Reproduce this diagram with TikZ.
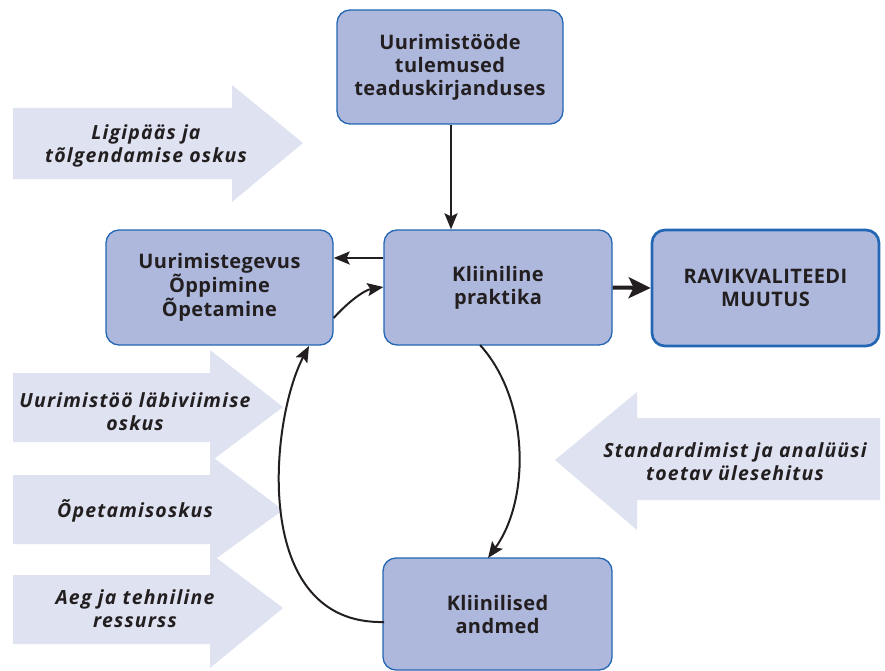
\documentclass[tikz,border=0pt]{standalone}
\usepackage{fontspec}
\setmainfont{Open Sans}
\newfontfamily\boxfont{Open Sans}[LetterSpace=2]
\newfontfamily\lblfont{Open Sans}[LetterSpace=6]
\usetikzlibrary{arrows.meta}
\definecolor{boxfill}{HTML}{AEB8DD}
\definecolor{boxline}{HTML}{2266B4}
\definecolor{arrfill}{HTML}{DEE2F1}
\definecolor{txt}{HTML}{231F20}
\tikzset{
  box/.style={draw=boxline, line width=1.3pt, fill=boxfill, rounded corners=13pt,
    minimum width=#1, align=center, text=txt, font=\boxfont\fontsize{20}{23}\selectfont\bfseries, inner sep=0pt},
  biglbl/.style={align=center, text=txt, font=\lblfont\fontsize{19.5}{23}\selectfont\bfseries\itshape},
  bigarr/.style={fill=arrfill, draw=none},
  conn/.style={draw=txt, line width=2pt, -{Stealth[length=16pt,width=13pt,inset=3pt]}},
}
\begin{document}
\begin{tikzpicture}[x=1pt,y=-1pt]
\useasboundingbox (0,0) rectangle (885,671);
% big background arrows
\fill[bigarr] (13,108) -- (232,108) -- (232,85) -- (303,143) -- (232,202) -- (232,179) -- (13,179) -- cycle;
\fill[bigarr] (13,373) -- (210,373) -- (210,350) -- (283,407) -- (210,462) -- (210,442) -- (13,442) -- cycle;
\fill[bigarr] (13,475) -- (210,475) -- (210,455) -- (283,510) -- (210,563) -- (210,544) -- (13,544) -- cycle;
\fill[bigarr] (13,575) -- (210,575) -- (210,553) -- (283,608) -- (210,668) -- (210,644) -- (13,644) -- cycle;
\fill[bigarr] (880,418) -- (637,418) -- (637,392) -- (555,460) -- (637,530) -- (637,500) -- (880,500) -- cycle;
% labels of the big arrows
\node[biglbl] (l1) at (146,146) {Ligipääs ja\\tõlgendamise oskus};
\node[biglbl] (l2) at (135,412) {Uurimistöö läbiviimise\\oskus};
\node[biglbl] (l3) at (135,511) {Õpetamisoskus};
\node[biglbl] (l4) at (135,609) {Aeg ja tehniline\\ressurss};
\node[biglbl] (l5) at (735,462) {Standardimist ja analüüsi\\toetav ülesehitus};
% boxes
\node[box=226pt, minimum height=114pt] (top) at (450,67) {Uurimistööde\\tulemused\\teaduskirjanduses};
\node[box=227pt, minimum height=115pt] (uur) at (219.5,287.5) {Uurimistegevus\\Õppimine\\Õpetamine};
\node[box=228pt, minimum height=115pt] (kli) at (498,287.5) {Kliiniline\\praktika};
\node[box=227pt, minimum height=116pt, line width=2.7pt] (rav) at (765.5,288) {RAVIKVALITEEDI\\MUUTUS};
\node[box=229pt, minimum height=112pt] (and) at (497.5,614) {Kliinilised\\andmed};
% connectors
\draw[conn] ([xshift=1pt]top.south) -- ([xshift=1pt]top.south |- kli.north);
\draw[conn] ([yshift=29.5pt]kli.west) -- ([yshift=29.5pt]kli.west -| uur.east);
\draw[conn] ([yshift=-30.5pt]uur.east) .. controls (350,300) and (365,290) .. ([yshift=0.5pt]kli.west);
\draw[draw=txt, line width=4pt, -{Stealth[length=22pt,width=21pt,inset=5pt]}] (kli.east) -- (rav.west);
\coordinate (k1) at (480,345);
\coordinate (a1) at (488,558);
\draw[conn] (k1) .. controls (530,400) and (530,500) .. (a1);
\coordinate (a2) at (384,622);
\coordinate (u2) at (309,346);
\draw[conn] (a2) .. controls (250,625) and (270,420) .. (u2);
\end{tikzpicture}
\end{document}
